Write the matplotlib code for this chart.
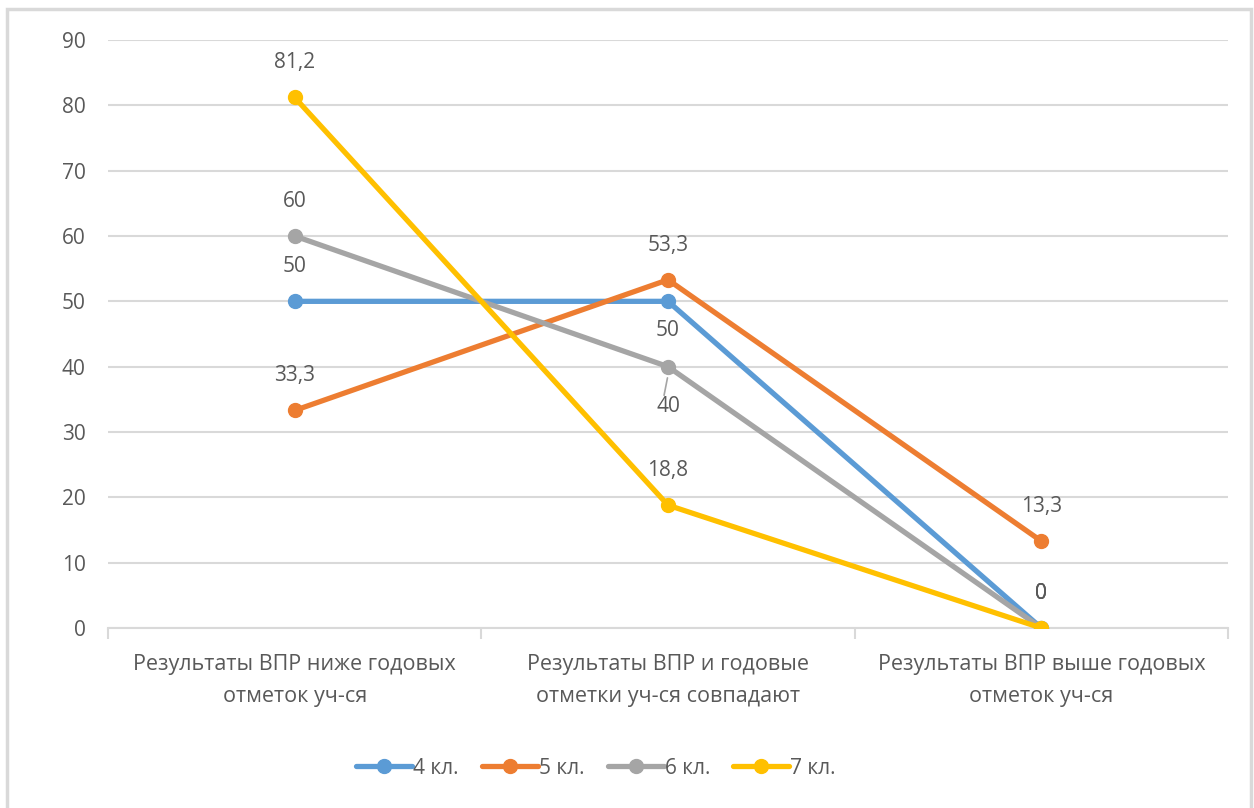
import matplotlib
matplotlib.use("Agg")
import matplotlib.pyplot as plt
from matplotlib.patches import Rectangle

# Data
categories = ["Результаты ВПР ниже годовых\nотметок уч-ся",
              "Результаты ВПР и годовые\nотметки уч-ся совпадают",
              "Результаты ВПР выше годовых\nотметок уч-ся"]
series_names = ["4 кл.", "5 кл.", "6 кл.", "7 кл."]
values_4 = [50, 50, 0]
values_5 = [33.3, 53.3, 13.3]
values_6 = [60, 40, 0]
values_7 = [81.2, 18.8, 0]
yticks = [0, 10, 20, 30, 40, 50, 60, 70, 80, 90]

colors = ["#5b9bd5", "#ed7d31", "#a5a5a5", "#ffc000"]
text_color = "#595959"
grid_color = "#d9d9d9"
# label offsets in points per point (positive = above)
label_off = [[25, -21, 25], [25, 25, 25], [25, -29, 25], [25, 25, 25]]

plt.rcParams['font.family'] = ['Open Sans', 'DejaVu Sans']

fig = plt.figure(figsize=(12.54, 8.08), dpi=100)
fig.patches.append(Rectangle((7 / 1254, -0.01), 1244 / 1254, 1 - 9 / 808 + 0.01,
                             transform=fig.transFigure, fill=False,
                             edgecolor=grid_color, linewidth=2.5))

ax = fig.add_axes([108 / 1254, 1 - 628 / 808, 1120 / 1254, 588 / 808])
x = list(range(len(categories)))
all_values = [values_4, values_5, values_6, values_7]

for name, vals, col in zip(series_names, all_values, colors):
    ax.plot(x, vals, color=col, linewidth=3.8, marker="o", markersize=10,
            label=name, solid_capstyle="round", zorder=3)

for vals, offs in zip(all_values, label_off):
    for xi, v, off in zip(x, vals, offs):
        txt = ("%g" % v).replace(".", ",")
        ax.annotate(txt, (xi, v), xytext=(0, off), textcoords="offset points",
                    ha="center", va="center", fontsize=15, color=text_color)

# small leader line for the "40" label
ax.annotate("", xy=(x[1], values_6[1] - 1.3), xytext=(x[1] - 0.012, values_6[1] - 4.8),
            arrowprops=dict(arrowstyle="-", color="#a5a5a5", lw=1.2))

ax.set_xlim(-0.5, 2.5)
ax.set_ylim(0, 90)
ax.set_yticks(yticks)
ax.set_xticks(x)
ax.set_xticklabels(categories, fontsize=15.5, color=text_color, linespacing=1.65)
ax.tick_params(axis="x", length=0, pad=19)
ax.tick_params(axis="y", length=0, labelsize=15, labelcolor=text_color, pad=16)

# category boundary ticks
ax.set_xticks([-0.5, 0.5, 1.5, 2.5], minor=True)
ax.tick_params(axis="x", which="minor", length=8, color=grid_color, width=1.5)

ax.grid(axis="y", color=grid_color, linewidth=1.5, zorder=0)
for s in ["top", "right", "left"]:
    ax.spines[s].set_visible(False)
ax.spines["bottom"].set_color(grid_color)
ax.spines["bottom"].set_linewidth(1.5)
ax.set_axisbelow(True)

leg = fig.legend(loc="center", bbox_to_anchor=(596 / 1254, 1 - 768 / 808), ncol=4,
                 frameon=False, fontsize=15, handlelength=2.7, handletextpad=0.05,
                 columnspacing=1.1)
for t in leg.get_texts():
    t.set_color(text_color)

fig.savefig("out.png", dpi=100, facecolor="white")
